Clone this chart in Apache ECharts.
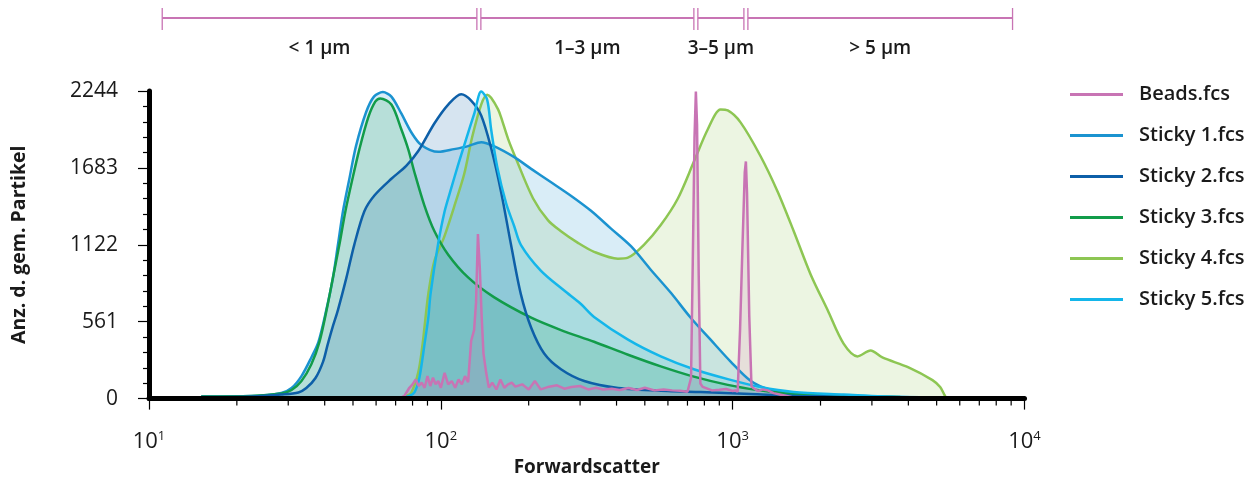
<!DOCTYPE html>
<html><head><meta charset="utf-8">
<script src="https://cdn.jsdelivr.net/npm/echarts@6/dist/echarts.min.js"></script>
<style>html,body{margin:0;padding:0;background:#fff}#c{width:1258px;height:482px}</style>
</head><body><div id="c"></div>
<script>
// ---------- data ----------
const seriesNames = ['Beads.fcs','Sticky 1.fcs','Sticky 2.fcs','Sticky 3.fcs','Sticky 4.fcs','Sticky 5.fcs'];
const yTickValues = [0, 561, 1122, 1683, 2244];
const xMinorTicks = [20,30,40,50,60,70,80,90,200,300,400,500,600,700,800,900,2000,3000,4000,5000,6000,7000,8000,9000];
const rangeLabels = ['< 1 µm','1–3 µm','3–5 µm','> 5 µm'];
const rangeBounds = [11.1, 135, 748, 1110, 9100];

const beadsFSC = [72,75,78,80,82,84,86,88,90,92,94,96,98,100,103,106,109,112,115,118,121,124,127,130,132,134,136,138,140,143,146,150,155,160,165,170,175,180,190,200,210,220,235,250,265,280,300,320,340,360,385,410,440,470,500,540,580,620,660,700,720,730,740,748,755,765,775,790,800,850,900,950,1000,1020,1040,1060,1080,1100,1110,1120,1140,1160,1180,1220,1270,1320,1380,1450,1600,2000,10000];
const beadsCount = [0,20,79,104,140,92,116,79,164,92,152,104,128,79,188,104,128,79,140,104,164,120,420,500,700,1200,950,600,330,190,80,116,67,140,79,104,116,87,104,67,128,67,87,97,72,84,92,67,79,67,72,63,77,63,79,60,67,60,58,50,150,1000,1900,2240,2000,900,110,85,80,60,65,70,55,60,50,500,1100,1650,1730,1500,600,90,75,55,67,60,40,30,10,3,0];

const sticky1FSC = [15.1,22.5,28.4,30.8,33.3,36.0,38.1,40.5,42.7,44.4,46.2,48.6,51.2,55.4,59.0,63.3,67.7,73.2,79.2,85.7,98.0,111,124,137.5,152,178,204,238,279,327,383,449,524,615,718,840,984,1151,1345,1707,2500,3752,7130,10000];
const sticky1Count = [16,19,41,77,164,300,416,646,884,1122,1367,1604,1842,2087,2203,2236,2203,2080,1943,1850,1800,1820,1842,1871,1842,1763,1676,1580,1480,1370,1240,1110,940,770,590,430,270,130,65,32,18,12,5,2];

const sticky2FSC = [15.1,22.5,28.4,32.5,34.6,37.2,39.5,40.9,42.7,44.4,47.5,50.5,54.7,59.2,67.7,76.1,83.7,95.0,106,117.4,127,137.5,148.7,161,174,188,204,226,258,310,405,600,777,1151,1707,3752,7130,10000];
const sticky2Count = [12,16,30,45,77,150,270,390,530,646,884,1122,1367,1482,1604,1698,1806,2007,2145,2220,2174,2066,1828,1504,1122,762,517,329,214,128,77,55,48,34,19,9,5,2];

const sticky3FSC = [15.1,22.5,28.4,30.8,33.3,36.0,38.4,40.8,42.7,44.9,47.1,49.8,52.6,56.4,59.6,62.0,67.7,73.2,77.3,81.1,87.8,95.0,106,124,152,204,258,335,438,567,736,962,1219,1495,2167,3752,7130,10000];
const sticky3Count = [16,19,37,63,128,250,416,668,884,1122,1367,1604,1820,2051,2166,2190,2145,1965,1820,1655,1410,1223,1050,884,740,590,500,415,320,235,160,100,62,40,23,12,5,2];

const sticky4FSC = [73.2,76.1,79.2,83.7,86.4,88.3,90.6,95.0,102.7,112,120.3,128,137.5,144.1,148.7,157.1,161,170.1,181.1,207.1,233.1,258,295,335,404.5,437.6,496.5,567,649,736,822,909,962,1064,1245,1425,1618,1850,2115,2399,2679,2969,3258,4004,4838,5141,5318,5400];
const sticky4Count = [5,19,43,192,380,560,764,1004,1180,1424,1640,1907,2145,2217,2195,2110,2050,1893,1748,1460,1300,1221,1136,1071,1021,1028,1122,1266,1460,1727,1965,2109,2102,2015,1770,1511,1223,906,646,401,308,351,300,228,135,84,27,0];

const sticky5FSC = [73.2,78.0,81.3,84.4,88.0,90.6,92.2,97.8,103,108.5,114.4,122.1,130.4,137.5,144.1,148.7,156,167.4,178.3,188,220,264,302,335,438,567,736,962,1245,1618,2399,3752,7130,10000];
const sticky5Count = [5,19,48,150,403,590,764,1124,1365,1533,1700,1893,2085,2240,2181,1965,1691,1424,1259,1122,934,790,690,596,430,308,214,142,84,48,30,12,5,2];

// ---------- style ----------
const FONT = '"Open Sans", "Noto Sans", sans-serif';
const TXT = '#1a1a1a';
const PINK = '#c874b4';
const colors = {
  'Beads.fcs': PINK,
  'Sticky 1.fcs': '#1b93d0',
  'Sticky 2.fcs': '#0d5fa8',
  'Sticky 3.fcs': '#129c4a',
  'Sticky 4.fcs': '#8dc653',
  'Sticky 5.fcs': '#14b6ea'
};

function lineSeries(name, xs, ys, smooth) {
  const c = colors[name];
  return {
    type: 'line', name: name,
    data: xs.map((x, i) => [x, ys[i]]),
    symbol: 'none', showSymbol: false, smooth: smooth,
    lineStyle: { width: 2.5, color: c },
    itemStyle: { color: c },
    areaStyle: { color: c, opacity: 0.17 },
    z: 2
  };
}

const chart = echarts.init(document.getElementById('c'), null, { renderer: 'canvas' });

const option = {
  animation: false,
  backgroundColor: '#fff',
  grid: { left: 149, right: 233.5, top: 91, bottom: 80, containLabel: false },
  legend: {
    orient: 'vertical', left: 1065, top: 79,
    itemWidth: 53, itemHeight: 3, itemGap: 20, icon: 'rect',
    data: seriesNames,
    textStyle: { fontFamily: FONT, fontSize: 20, fontWeight: 600, color: TXT, lineHeight: 21, padding: [0, 0, 0, 11] }
  },
  xAxis: {
    type: 'log', logBase: 10, min: 10, max: 10000, z: 10,
    name: 'Forwardscatter', nameLocation: 'middle', nameGap: 54,
    nameTextStyle: { fontFamily: FONT, fontSize: 19, fontWeight: 700, color: TXT },
    axisLine: { show: true, lineStyle: { color: '#000', width: 5 } },
    axisTick: { show: true, length: 11, lineStyle: { color: '#000', width: 1.2 } },
    axisLabel: {
      margin: 31, color: TXT,
      formatter: v => '{b|10}{s|' + Math.round(Math.log10(v)) + '}',
      rich: {
        b: { fontFamily: FONT, fontSize: 22, fontWeight: 500, color: TXT },
        s: { fontFamily: FONT, fontSize: 13, fontWeight: 500, color: TXT, padding: [0, 0, 12, 0] }
      }
    },
    splitLine: { show: false }
  },
  yAxis: {
    type: 'value', min: 0, max: 2244, interval: 561, z: 10,
    name: 'Anz. d. gem. Partikel', nameLocation: 'middle', nameGap: 120, nameRotate: 90,
    nameTextStyle: { fontFamily: FONT, fontSize: 19.5, fontWeight: 700, color: TXT },
    axisLine: { show: true, lineStyle: { color: '#000', width: 5 } },
    axisTick: { show: true, length: 11, lineStyle: { color: '#000', width: 1.2 } },
    minorTick: { show: true, splitNumber: 5, length: 6, lineStyle: { color: '#000', width: 1.2 } },
    axisLabel: { margin: 31, fontFamily: FONT, fontSize: 21, fontWeight: 500, color: TXT, formatter: v => String(v) },
    splitLine: { show: false }, minorSplitLine: { show: false }
  },
  series: [
    lineSeries('Sticky 4.fcs', sticky4FSC, sticky4Count, 0.3),
    lineSeries('Sticky 1.fcs', sticky1FSC, sticky1Count, 0.3),
    lineSeries('Sticky 3.fcs', sticky3FSC, sticky3Count, 0.3),
    lineSeries('Sticky 2.fcs', sticky2FSC, sticky2Count, 0.3),
    lineSeries('Sticky 5.fcs', sticky5FSC, sticky5Count, 0.3),
    lineSeries('Beads.fcs', beadsFSC, beadsCount, false),
    {
      type: 'custom', name: 'xMinor', silent: true, clip: false, z: 11,
      data: xMinorTicks.map(v => [v, 0]),
      renderItem: function (params, api) {
        const p = api.coord([api.value(0), 0]);
        return { type: 'line', shape: { x1: p[0], y1: p[1], x2: p[0], y2: p[1] + 7 },
                 style: { stroke: '#000', lineWidth: 1.2 } };
      }
    },
    {
      type: 'custom', name: 'ranges', silent: true, clip: false, z: 11,
      data: rangeLabels.map((t, i) => [rangeBounds[i], 1, i, rangeBounds[i + 1]]),
      renderItem: function (params, api) {
        const i = api.value(2);
        const last = rangeLabels.length - 1;
        const x1 = api.coord([api.value(0), 1])[0] + (i > 0 ? 2 : 0);
        const x2 = api.coord([api.value(3), 1])[0] - (i < last ? 2 : 0);
        const y = 18;
        return { type: 'group', children: [
          { type: 'line', shape: { x1: x1, y1: y, x2: x2, y2: y }, style: { stroke: PINK, lineWidth: 2 } },
          { type: 'line', shape: { x1: x1, y1: 8, x2: x1, y2: 30 }, style: { stroke: PINK, lineWidth: 1.3 } },
          { type: 'line', shape: { x1: x2, y1: 8, x2: x2, y2: 30 }, style: { stroke: PINK, lineWidth: 1.3 } },
          { type: 'text', style: { text: rangeLabels[i], x: (x1 + x2) / 2, y: 49, align: 'center', verticalAlign: 'middle',
              fontFamily: FONT, fontSize: 19, fontWeight: 600, fill: TXT } }
        ]};
      }
    }
  ]
};
chart.setOption(option);
</script>
</body></html>
